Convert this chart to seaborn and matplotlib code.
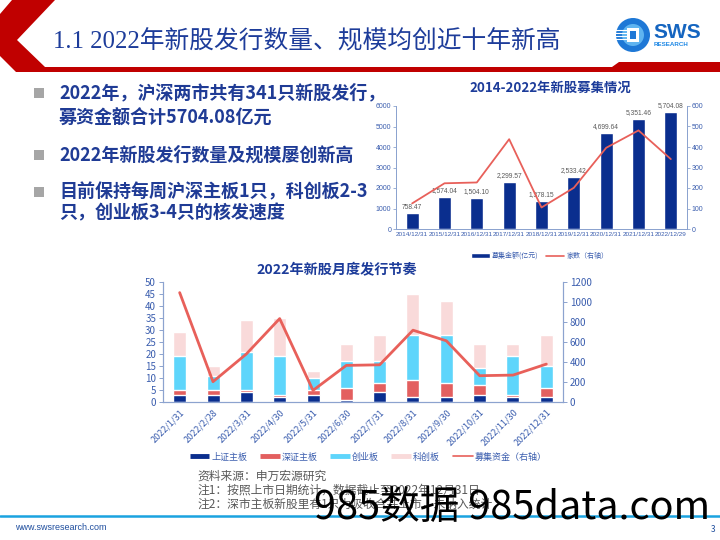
import numpy as np
import pandas as pd
import matplotlib
matplotlib.use("Agg")
import matplotlib.pyplot as plt
import seaborn as sns
from matplotlib.patches import Polygon, Rectangle, Circle
from matplotlib.lines import Line2D

# ---------------- data ----------------
years = ["2014/12/31", "2015/12/31", "2016/12/31", "2017/12/31", "2018/12/31",
         "2019/12/31", "2020/12/31", "2021/12/31", "2022/12/29"]
raise_amt = [758.47, 1574.04, 1504.10, 2299.57, 1378.15, 2533.42, 4699.64, 5351.46, 5704.08]
ipo_count = [125, 223, 227, 438, 105, 201, 396, 481, 341]

months = ["2022/1/31", "2022/2/28", "2022/3/31", "2022/4/30", "2022/5/31", "2022/6/30",
          "2022/7/31", "2022/8/31", "2022/9/30", "2022/10/31", "2022/11/30", "2022/12/31"]
sh_main = [3, 3, 4, 2, 3, 1, 4, 2, 2, 3, 2, 2]
sz_main = [2, 2, 1, 1, 2, 5, 4, 7, 6, 4, 1, 4]
gem = [14, 6, 16, 16, 5, 11, 9, 19, 20, 7, 16, 9]
star = [10, 4, 13, 16, 3, 7, 11, 17, 14, 10, 5, 13]
monthly_raise = [1094, 203, 480, 834, 116, 366, 372, 718, 612, 263, 269, 379]

series_names = ["上证主板", "深证主板", "创业板", "科创板", "募集资金（右轴）"]

# ---------------- style ----------------
sns.set_theme(style="white")
plt.rcParams["font.family"] = ["Noto Sans CJK SC", "DejaVu Sans"]
plt.rcParams["axes.unicode_minus"] = False

NARROW = ["Liberation Sans Narrow", "Liberation Sans", "DejaVu Sans"]
NAVY = "#0A2E8E"
RED = "#E35F5F"
CYAN = "#5ED5FB"
PINK = "#F9DADA"
LINE = "#E8605A"
TICK = "#3A5DAE"
SPINE = "#8CA3CF"
TITLE = "#1D3C9A"

fig = plt.figure(figsize=(7.2, 5.4), dpi=100)

# ---------------- background decorations ----------------
bg = fig.add_axes([0, 0, 1, 1], zorder=0)
bg.set_xlim(0, 720)
bg.set_ylim(540, 0)
bg.axis("off")
red_shape = Polygon([(12, 0), (55, 0), (17, 40), (45, 67), (612, 67), (619, 62),
                     (720, 62), (720, 72), (16, 72), (0, 56), (0, 14)],
                    closed=True, facecolor="#C00000", edgecolor="none")
bg.add_patch(red_shape)
bg.text(53, 42, "1.1 2022年新股发行数量、规模均创近十年新高", fontsize=17.8,
        color=TITLE, va="center", ha="left",
        family=["Liberation Serif", "Noto Sans CJK SC"])
# logo
bg.add_patch(Circle((633, 35), 17, facecolor="#1E78D6", edgecolor="none"))
bg.add_patch(Circle((633, 35), 11, facecolor="#5FB4F0", edgecolor="none"))
bg.add_patch(Rectangle((627, 28), 12, 14, facecolor="white", edgecolor="none"))
bg.add_patch(Rectangle((630, 31), 6, 8, facecolor="#1E78D6", edgecolor="none"))
for yy in range(30, 42, 3):
    bg.plot([614, 627], [yy, yy], color="white", lw=0.8)
bg.text(653, 32, "SWS", fontsize=15, fontweight="bold", color="#1565C0",
        va="center", ha="left", family=["Liberation Sans", "DejaVu Sans"])
bg.text(654, 45, "RESEARCH", fontsize=4.5, fontweight="bold", color="#1E88E5",
        va="center", ha="left", family=["Liberation Sans", "DejaVu Sans"])

# bullets
bullets = [
    (93, "2022年，沪深两市共有341只新股发行，", True),
    (118, "募资金额合计5704.08亿元", False),
    (155, "2022年新股发行数量及规模屡创新高", True),
    (192, "目前保持每周沪深主板1只，科创板2-3", True),
    (213, "只，创业板3-4只的核发速度", False),
]
for y, txt, mark in bullets:
    if mark:
        bg.add_patch(Rectangle((34, y - 5), 10, 10, facecolor="#A6A6A6", edgecolor="none"))
    bg.text(59, y, txt, fontsize=13, fontweight="bold", color="#1F3B95",
            va="center", ha="left")

# footnotes
notes = ["资料来源：申万宏源研究",
         "注1：按照上市日期统计，数据截止至2022年12月31日",
         "注2：深市主板新股里有1只为吸收合并上市，未纳入统计"]
for i, t in enumerate(notes):
    bg.text(197, 476 + i * 14, t, fontsize=8.5, color="#595959", va="center", ha="left")

bg.plot([0, 720], [516, 516], color="#1AA3E0", lw=1.8)
bg.text(15, 528, "www.swsresearch.com", fontsize=6.5, color="#1F4E9E", va="center", ha="left",
        family=["Liberation Sans", "DejaVu Sans"])
bg.text(713, 530, "3", fontsize=6, color="#1F4E9E", va="center", ha="center")

# ---------------- annual chart ----------------
W, H = 720, 540
def rect(l, t, r, b):
    return [l / W, 1 - b / H, (r - l) / W, (b - t) / H]

ax1 = fig.add_axes(rect(396, 106, 687, 229), zorder=2)
df_y = pd.DataFrame({"year": years, "amt": raise_amt, "cnt": ipo_count})
sns.barplot(data=df_y, x="year", y="amt", ax=ax1, color=NAVY, width=0.4, saturation=1)
ax1.bar_label(ax1.containers[0], labels=[f"{v:,.2f}" for v in raise_amt],
              fontsize=4.8, color="#595959", padding=2, family=NARROW)
ax1.set_ylim(0, 6000)
ax1.set_yticks(np.arange(0, 6001, 1000))
ax1.set_xlim(-0.5, len(years) - 0.5)
ax1.set_xlabel("")
ax1.set_ylabel("")
ax1b = ax1.twinx()
sns.lineplot(x=np.arange(len(years)), y=df_y["cnt"], ax=ax1b, color=LINE, lw=1.3, legend=False)
ax1b.set_ylim(0, 600)
ax1b.set_yticks(np.arange(0, 601, 100))
ax1b.set_ylabel("")
ax1b.set_xlim(-0.5, len(years) - 0.5)
for a in (ax1, ax1b):
    a.set_facecolor("none")
    for s in a.spines.values():
        s.set_color(SPINE)
        s.set_linewidth(0.7)
    a.spines["top"].set_visible(False)
    a.tick_params(axis="y", labelsize=5, colors=SPINE, labelcolor=TICK, length=2, width=0.6, pad=1.5)
    for lab in a.get_yticklabels():
        lab.set_family(NARROW)
ax1.set_xticks(np.arange(len(years)), years)
ax1.tick_params(axis="x", labelsize=4.6, labelcolor=TICK, length=0, pad=2.5)
for lab in ax1.get_xticklabels():
    lab.set_family(NARROW)
ax1.set_xticks(np.arange(len(years) + 1) - 0.5, minor=True)
ax1.tick_params(axis="x", which="minor", length=2, color=SPINE, width=0.6)
fig.text(550 / W, 1 - 88 / H, "2014-2022年新股募集情况", fontsize=9.6, fontweight="bold",
         color=TITLE, ha="center", va="center")
h_y = [Rectangle((0, 0), 1, 1, facecolor=NAVY), Line2D([0], [0], color=LINE, lw=1.2)]
fig.legend(h_y, ["募集金额(亿元)", "家数（右轴）"], loc="center", bbox_to_anchor=(540 / W, 1 - 256 / H),
           ncol=2, frameon=False, fontsize=5, handlelength=2.6, handleheight=0.6,
           handletextpad=0.3, columnspacing=1.2, labelcolor=TICK)

# ---------------- monthly chart ----------------
ax2 = fig.add_axes(rect(163, 282, 563, 402), zorder=2)
c1 = np.array(sh_main)
c2 = c1 + np.array(sz_main)
c3 = c2 + np.array(gem)
c4 = c3 + np.array(star)
for vals, col in [(c4, PINK), (c3, CYAN), (c2, RED), (c1, NAVY)]:
    sns.barplot(x=months, y=vals, ax=ax2, color=col, width=0.39, saturation=1)
ax2.set_ylim(0, 50)
ax2.set_yticks(np.arange(0, 51, 5))
ax2.set_xlim(-0.5, len(months) - 0.5)
ax2b = ax2.twinx()
sns.lineplot(x=np.arange(len(months)), y=monthly_raise, ax=ax2b, color=LINE, lw=2, legend=False)
ax2b.set_ylim(0, 1200)
ax2b.set_yticks(np.arange(0, 1201, 200))
ax2b.set_xlim(-0.5, len(months) - 0.5)
for a in (ax2, ax2b):
    a.set_facecolor("none")
    a.set_ylabel("")
    for s in a.spines.values():
        s.set_color(SPINE)
        s.set_linewidth(0.8)
    a.spines["top"].set_visible(False)
    a.tick_params(axis="y", labelsize=7, colors=SPINE, labelcolor=TICK, length=3, width=0.7, pad=2)
ax2.set_xticks(np.arange(len(months)))
ax2.set_xticklabels(months, rotation=45, ha="right", rotation_mode="anchor")
ax2.tick_params(axis="x", labelsize=6.5, labelcolor=TICK, length=0, pad=4)
ax2.set_xticks(np.arange(len(months) + 1) - 0.5, minor=True)
ax2.tick_params(axis="x", which="minor", length=3, color=SPINE, width=0.7)
ax2.set_xlabel("")
fig.text(337 / W, 1 - 270 / H, "2022年新股月度发行节奏", fontsize=10.2, fontweight="bold",
         color=TITLE, ha="center", va="center")
h_m = [Line2D([0], [0], color=c, lw=3.5, solid_capstyle="butt") for c in (NAVY, RED, CYAN, PINK)]
h_m.append(Line2D([0], [0], color=LINE, lw=1.2))
fig.legend(h_m, series_names, loc="center", bbox_to_anchor=(368 / W, 1 - 457 / H),
           ncol=5, frameon=False, fontsize=6.5, handlelength=2.2, handletextpad=0.2,
           columnspacing=1.4, labelcolor=TICK)

# watermark
fig.text(314 / W, 1 - 508 / H, "985数据 985data.com", fontsize=28.5, color="black",
         ha="left", va="center", zorder=10)

fig.savefig("out.png", dpi=100)
